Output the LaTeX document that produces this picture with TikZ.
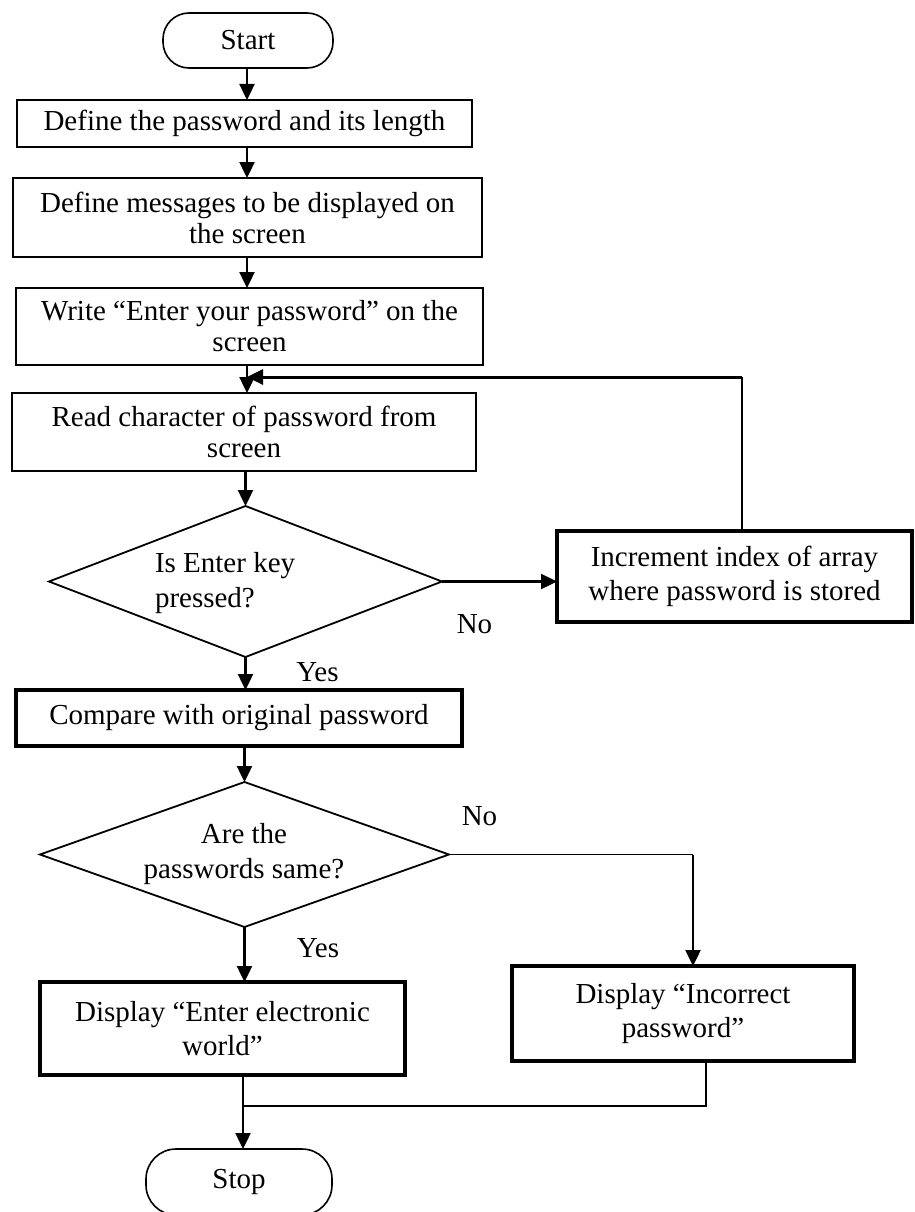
\documentclass[tikz,border=0pt]{standalone}
\usepackage{fontspec}
\setmainfont{Liberation Serif}
\usetikzlibrary{shapes.geometric,arrows.meta}
\begin{document}
\begin{tikzpicture}[x=1pt,y=-1pt,
  font=\fontsize{29}{31}\selectfont,
  every node/.style={inner sep=0pt, outer sep=0pt},
  proc/.style={draw, line width=2pt, rectangle, align=center},
  boldproc/.style={draw, line width=4pt, rectangle, align=center,
    font=\fontsize{29}{34}\selectfont},
  term/.style={draw, line width=1.6pt, rectangle},
  decision/.style={draw, diamond, line width=1.8pt},
  flow/.style={-{Triangle[length=16pt,width=15pt]}, line width=2.4pt},
  thinline/.style={line width=1.4pt},
  twoline/.style={font=\fontsize{29}{35}\selectfont}
]
\useasboundingbox (0,0) rectangle (914,1212);

% column guides for the vertical connectors
\coordinate (col) at (247,0);
\coordinate (col2) at (243,0);
\coordinate (noX) at (693,0);
\coordinate (mergeX) at (706,0);
\coordinate (mergeY) at (0,1106);
\coordinate (loopR) at (742,377);

% terminals and process boxes
\node[term, rounded corners=26pt, minimum width=170pt, minimum height=55pt] (start) at (248,40.5) {Start};
\node[proc, minimum width=455pt, minimum height=47pt] (b1) at (244.5,123.5) {Define the password and its length};
\node[proc, minimum width=469pt, minimum height=79pt] (b2) at (247.5,217.5) {Define messages to be displayed on\\the screen};
\node[proc, minimum width=467pt, minimum height=77pt] (b3) at (249.5,326.5) {Write “Enter your password” on the\\screen};
\node[proc, minimum width=464pt, minimum height=78pt] (b4) at (244,432) {Read character of password from\\screen};

% first decision
\node[decision, minimum width=393pt, minimum height=151pt] (d1) at (245.5,581.5) {};
\node[twoline, align=left, anchor=west] (d1t) at (155,583) {Is Enter key\\pressed?};
\node[boldproc, minimum width=355pt, minimum height=91pt] (inc) at (734.5,576.5) {Increment index of array\\where password is stored};

\node[boldproc, minimum width=446pt, minimum height=56pt] (b5) at (239,718) {Compare with original password};

% second decision
\node[decision, minimum width=409pt, minimum height=145pt] (d2) at (244.5,854.5) {};
\node[twoline, align=center] (d2t) at (244,854) {Are the\\passwords same?};

\node[boldproc, minimum width=365pt, minimum height=93pt] (b6) at (222.5,1028.5) {Display “Enter electronic\\world”};
\node[boldproc, minimum width=342pt, minimum height=95pt] (b7) at (683,1013.5) {Display “Incorrect\\password”};
\node[term, rounded corners=30pt, minimum width=186pt, minimum height=66pt] (stop) at (239,1182) {Stop};

% branch labels
\node (no1) at (474.5,624) {No};
\node (yes1) at (317.5,672.5) {Yes};
\node (no2) at (479.5,816.5) {No};
\node (yes2) at (318,948.5) {Yes};

% main flow
\draw[flow] (start.south -| col) -- (b1.north -| col);
\draw[flow] (b1.south -| col) -- (b2.north -| col);
\draw[flow] (b2.south -| col) -- (b3.north -| col);
\draw[flow] (b3.south -| col) -- (b4.north -| col);
\draw[flow] (b4.south -| d1.north) -- (d1.north);
\draw[flow] (d1.south) -- (d1.south |- b5.north);
\draw[flow] (b5.south -| d2.north) -- (d2.north);

% loop back from the increment box
\draw[flow] (d1.east) -- (d1.east -| inc.west);
\draw[thinline] (inc.north -| loopR) -- (loopR);
\draw[flow, line width=3pt] (loopR) -- (col |- loopR);

% outcome of the comparison
\draw[thinline] (d2.east) -- (d2.east -| noX);
\draw[flow] (d2.east -| noX) -- (b7.north -| noX);
\draw[flow] (d2.south) -- (d2.south |- b6.north);

% both outcomes join before stopping
\draw[thinline] (b7.south -| mergeX) -- (mergeX |- mergeY) -- (col2 |- mergeY);
\draw[flow] (b6.south -| col2) -- (stop.north -| col2);
\end{tikzpicture}
\end{document}
